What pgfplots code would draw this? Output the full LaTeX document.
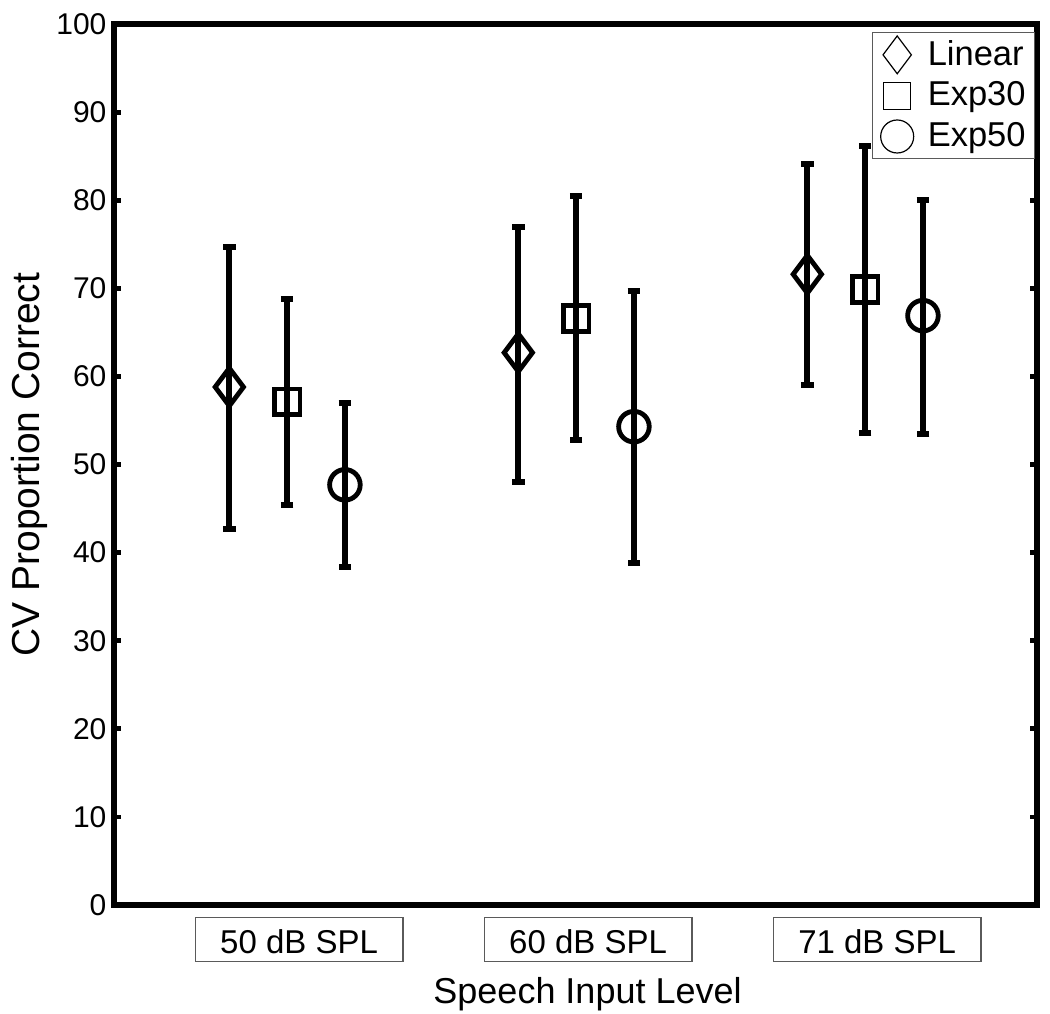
\documentclass[border=0pt]{standalone}
\usepackage{pgfplots}
\pgfplotsset{compat=1.18}
\usepackage{fontspec}
\setmainfont{Liberation Sans}
\definecolor{boxgray}{RGB}{90,90,90}
\begin{document}
\begin{tikzpicture}
\begin{axis}[
  name=ax,
  scale only axis,
  width=307.7pt, height=293.7pt,
  xmin=0.401, xmax=3.595, ymin=0, ymax=100,
  ytick={0,10,...,100},
  xtick={1,2,3},
  xticklabels={50 dB SPL,60 dB SPL,71 dB SPL},
  ytick pos=both, yticklabel pos=left,
  xtick style={draw=none},
  tick align=inside,
  major tick length=2.4pt,
  ytick style={line width=1.6pt, black},
  axis line style={line width=1.8pt, black},
  /pgf/number format/assume math mode=true,
  yticklabel style={font=\fontsize{10}{12}\selectfont, xshift=1pt},
  xticklabel style={font=\fontsize{11}{13}\selectfont, draw=boxgray, line width=0.45pt,
    inner xsep=8.3pt, inner ysep=2.7pt, text height=9.2pt, text depth=0pt,
    yshift=-4pt, xshift=4pt},
  xlabel={Speech Input Level},
  ylabel={CV Proportion Correct},
  xlabel style={font=\fontsize{12}{14}\selectfont, xshift=4pt, yshift=-1.5pt},
  ylabel style={font=\fontsize{13}{15}\selectfont},
  ylabel shift=-4pt,
  legend style={at={(rel axis cs:0.998,0.991)}, anchor=north east,
    draw=boxgray, line width=0.45pt, font=\fontsize{11.5}{13}\selectfont,
    inner xsep=1pt, inner ysep=0.5pt, row sep=0pt},
  legend cell align=left,
  error bars/y dir=both, error bars/y explicit,
  error bars/error bar style={line width=2pt, black},
  error bars/error mark options={rotate=90, mark size=2.1pt, line width=2pt, black},
]
% Linear
\addplot[only marks, mark=diamond, mark size=6.3pt, mark options={line width=1.6pt, black}, forget plot]
  coordinates {
  (0.8,58.8) += (0,15.9) -= (0,16.1)
  (1.8,62.7) += (0,14.3) -= (0,14.7)
  (2.8,71.6) += (0,12.5) -= (0,12.6)
  };
% Exp30
\addplot[only marks, mark=square, mark size=4.3pt, mark options={line width=1.6pt, black}, forget plot]
  coordinates {
  (1.0,57.1) += (0,11.7) -= (0,11.7)
  (2.0,66.6) += (0,13.9) -= (0,13.8)
  (3.0,69.9) += (0,16.3) -= (0,16.3)
  };
% Exp50
\addplot[only marks, mark=o, mark size=5.1pt, mark options={line width=1.6pt, black}, forget plot]
  coordinates {
  (1.2,47.7) += (0,9.3) -= (0,9.3)
  (2.2,54.3) += (0,15.4) -= (0,15.5)
  (3.2,66.9) += (0,13.1) -= (0,13.4)
  };
\addlegendimage{legend image code/.code={\draw[black, line width=0.4pt, mark=diamond, mark size=6.3pt] plot coordinates {(0.3cm,0cm)}; \path (0.05cm,0pt) (0.58cm,0pt);}}
\addlegendentry{Linear}
\addlegendimage{legend image code/.code={\draw[black, line width=0.4pt, mark=square, mark size=4.5pt] plot coordinates {(0.3cm,0cm)}; \path (0.05cm,0pt) (0.58cm,0pt);}}
\addlegendentry{Exp30}
\addlegendimage{legend image code/.code={\draw[black, line width=0.4pt, mark=o, mark size=5.5pt] plot coordinates {(0.3cm,0cm)}; \path (0.05cm,0pt) (0.58cm,0pt);}}
\addlegendentry{Exp50}
\end{axis}
\pgfresetboundingbox
\path ([xshift=-38pt,yshift=-36pt]ax.south west) rectangle ([xshift=4.3pt,yshift=8pt]ax.north east);
\end{tikzpicture}
\end{document}
